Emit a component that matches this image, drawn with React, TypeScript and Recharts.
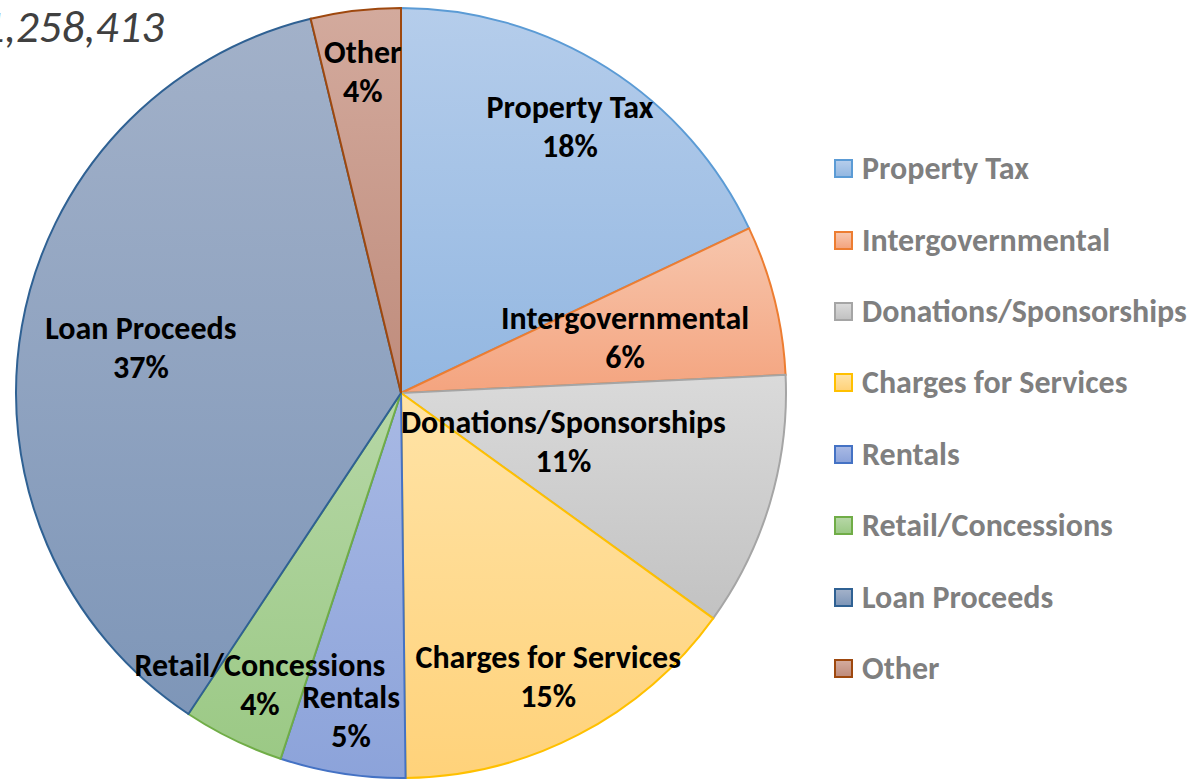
import React from 'react';
import { PieChart, Pie, Cell, Legend } from 'recharts';

const categories = [
    'Property Tax',
    'Intergovernmental',
    'Donations/Sponsorships',
    'Charges for Services',
    'Rentals',
    'Retail/Concessions',
    'Loan Proceeds',
    'Other',
];
const shares = [17.97, 6.28, 10.7, 14.86, 5.25, 4.25, 36.92, 3.77];
const totalLabel = '$1,258,413';

const fillTop = ['#b5cdeb', '#f7c6ad', '#dadada', '#ffe3a6', '#a8b9e4', '#b6d7a6', '#a2b1c9', '#d3aa9d'];
const fillBottom = ['#93b7e1', '#f4a47f', '#c2c2c2', '#ffd27a', '#8ca3da', '#9bc985', '#7e96b8', '#bf8c7c'];
const strokes = ['#5b9bd5', '#ed7d31', '#a5a5a5', '#ffc000', '#4472c4', '#70ad47', '#2f6193', '#9e480e'];
// excel "best fit" label distance, as a fraction of the radius
const labelDist = [0.82, 0.6, 0.44, 0.83, 0.85, 0.84, 0.686, 0.84];

const data = categories.map((name, i) => ({ name, value: shares[i] }));
const total = shares.reduce((a, b) => a + b, 0);

const FONT = "Carlito, Calibri, 'Liberation Sans Narrow', 'Open Sans', sans-serif";
const RAD = Math.PI / 180;

const renderLabel = (props: any) => {
    const { cx, cy, midAngle, outerRadius, index, value } = props;
    const r = outerRadius * labelDist[index];
    const x = cx + r * Math.cos(-midAngle * RAD);
    const y = cy + r * Math.sin(-midAngle * RAD);
    const pct = Math.round((value / total) * 100) + '%';
    return (
        <text x={x} y={y} textAnchor="middle" fill="#000" fontFamily={FONT} fontSize={32} fontWeight="bold">
            <tspan x={x} y={y - 19} dominantBaseline="central">{categories[index]}</tspan>
            <tspan x={x} y={y + 20} dominantBaseline="central">{pct}</tspan>
        </text>
    );
};

const renderLegend = () => (
    <div style={{ fontFamily: FONT }}>
        {categories.map((c, i) => (
            <div key={c} style={{ display: 'flex', alignItems: 'center', height: 71.4 }}>
                <span
                    style={{
                        width: 15,
                        height: 15,
                        marginRight: 9,
                        border: `2px solid ${strokes[i]}`,
                        background: `linear-gradient(${fillTop[i]}, ${fillBottom[i]})`,
                        display: 'inline-block',
                        flexShrink: 0,
                    }}
                />
                <span style={{ color: '#7f7f7f', fontSize: 32, fontWeight: 'bold', whiteSpace: 'nowrap' }}>{c}</span>
            </div>
        ))}
    </div>
);

export default function App() {
    return (
        <div style={{ position: 'absolute', left: 0, top: 0, width: 1195, height: 780, background: '#fff', overflow: 'hidden' }}>
            <PieChart width={1195} height={780}>
                <defs>
                    {categories.map((c, i) => (
                        <linearGradient key={c} id={`slice${i}`} x1="0" y1="0" x2="0" y2="1">
                            <stop offset="0%" stopColor={fillTop[i]} />
                            <stop offset="100%" stopColor={fillBottom[i]} />
                        </linearGradient>
                    ))}
                </defs>
                <text x={164} y={42} textAnchor="end" fontFamily={FONT} fontSize={45} fontStyle="italic" fill="#404040">
                    {totalLabel}
                </text>
                <Pie
                    data={data}
                    dataKey="value"
                    nameKey="name"
                    cx={396}
                    cy={388}
                    outerRadius={385}
                    startAngle={90}
                    endAngle={-270}
                    label={renderLabel}
                    labelLine={false}
                    isAnimationActive={false}
                >
                    {data.map((d, i) => (
                        <Cell key={d.name} fill={`url(#slice${i})`} stroke={strokes[i]} strokeWidth={2} />
                    ))}
                </Pie>
                <Legend
                    layout="vertical"
                    content={renderLegend}
                    wrapperStyle={{ position: 'absolute', left: 834, top: 133, width: 361 }}
                />
            </PieChart>
        </div>
    );
}
